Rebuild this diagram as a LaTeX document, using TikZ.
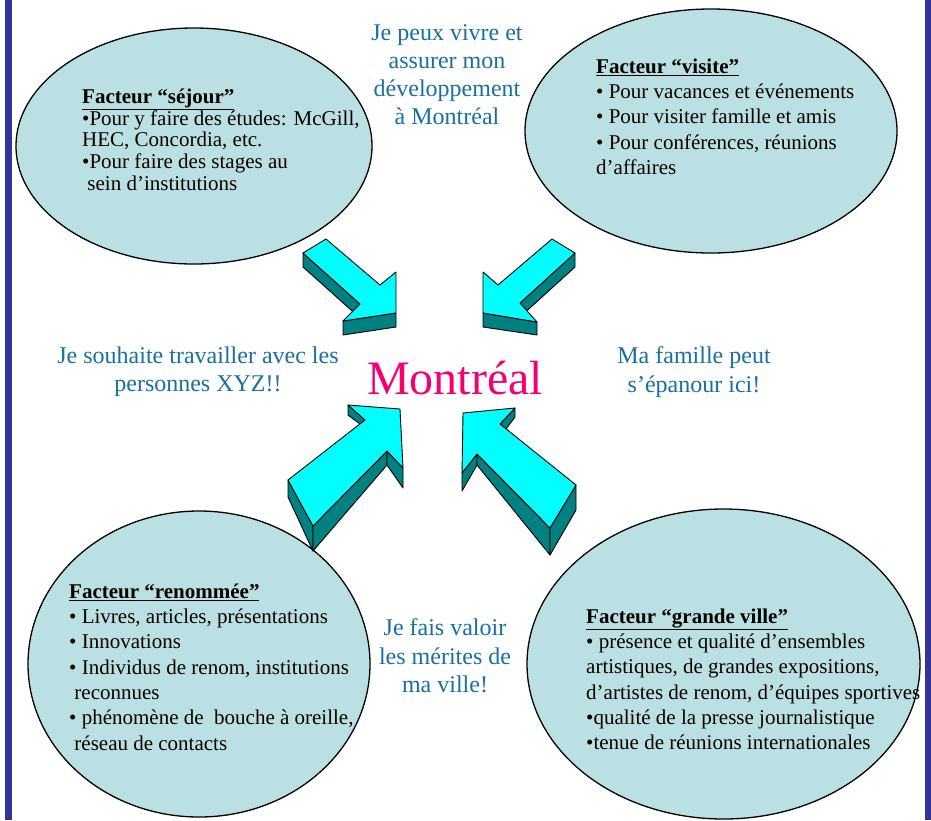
\documentclass[tikz,border=0pt]{standalone}
\usepackage{fontspec}
\setmainfont{Liberation Serif}
\usetikzlibrary{shapes.geometric}
\definecolor{ellfill}{RGB}{187,224,227}
\definecolor{bluetxt}{RGB}{25,112,160}
\definecolor{magtxt}{RGB}{245,0,115}
\definecolor{atop}{RGB}{0,255,255}
\definecolor{aside}{RGB}{0,128,128}
\definecolor{bord}{RGB}{51,51,153}
\begin{document}
\begin{tikzpicture}[x=1pt,y=-1pt,
  ell/.style={ellipse, draw=black, line width=1.3pt, fill=ellfill, inner sep=0pt},
  body/.style={anchor=north west, align=left, inner sep=0pt, font=\fontsize{21}{25.3}\selectfont},
  bluetext/.style={anchor=north, align=center, inner sep=0pt, text=bluetxt, font=\fontsize{24}{28.3}\selectfont},
  atopface/.style={fill=atop, draw=black, line width=0.9pt, line join=round},
  asideface/.style={fill=aside, draw=black, line width=0.9pt, line join=round},
  bordbar/.style={fill=bord, draw=none}]
\useasboundingbox (0,0) rectangle (931,820);
\fill[white] (0,0) rectangle (931,820);
\fill[bordbar] (5,0) rectangle (12,820);
\fill[bordbar] (925,0) rectangle (931,820);

% ellipses
\node[ell, minimum width=356pt, minimum height=236pt] (sejour) at (194,146) {};
\node[ell, minimum width=372pt, minimum height=244pt] (visite) at (711,131) {};
\node[ell, minimum width=342pt, minimum height=306pt] (renom) at (199,664) {};
\node[ell, minimum width=393pt, minimum height=310pt] (ville) at (723.5,664) {};

% ellipse texts
\node[body, font=\fontsize{21}{21.8}\selectfont] (tsejour) at (82,88.5) {\underline{\textbf{Facteur “séjour”}}\\
•Pour y faire des études: McGill,\\
HEC, Concordia, etc.\\
•Pour faire des stages au\\
\ sein d’institutions};
\node[body] (tvisite) at (596,58.5) {\underline{\textbf{Facteur “visite”}}\\
• Pour vacances et événements\\
• Pour visiter famille et amis\\
• Pour conférences, réunions\\
d’affaires};
\node[body] (trenom) at (69,583.5) {\underline{\textbf{Facteur “renommée”}}\\
• Livres, articles, présentations\\
• Innovations\\
• Individus de renom, institutions\\
\ reconnues\\
• phénomène de\ \ bouche à oreille,\\
\ réseau de contacts};
\node[body] (tville) at (586,608.5) {\underline{\textbf{Facteur “grande ville”}}\\
• présence et qualité d’ensembles\\
artistiques, de grandes expositions,\\
d’artistes de renom, d’équipes sportives\\
•qualité de la presse journalistique\\
•tenue de réunions internationales};

% blue texts
\node[bluetext] (vivre) at (447,24) {Je peux vivre et\\assurer mon\\développement\\à Montréal};
\node[bluetext] (travail) at (198,346.6) {Je souhaite travailler avec les\\personnes XYZ!!};
\node[bluetext] (famille) at (694,346.6) {Ma famille peut\\s’épanour ici!};
\node[bluetext] (valoir) at (445,618.6) {Je fais valoir\\les mérites de\\ma ville!};

% centre
\node[anchor=base, inner sep=0pt, text=magtxt, font=\fontsize{48}{56}\selectfont] (mtl) at (455,394) {Montréal};

% arrow 1 (top-left, pointing down-right)
\filldraw[asideface] (303,253) -- (360,304) -- (360,318) -- (303,267) -- cycle;
\filldraw[asideface] (343,321) -- (396,313) -- (396,327) -- (343,335) -- cycle;
\filldraw[atopface] (303,253) -- (326,239) -- (380,285) -- (396,272) -- (396,313) -- (343,321) -- (360,304) -- cycle;

% arrow 2 (top-right, pointing down-left)
\filldraw[asideface] (575,253) -- (520,303) -- (520,317) -- (575,267) -- cycle;
\filldraw[asideface] (483,313) -- (537,322) -- (537,335) -- (483,327) -- cycle;
\filldraw[atopface] (483,313) -- (483,272) -- (498,285) -- (552,239) -- (575,253) -- (520,303) -- (537,322) -- cycle;

% arrow 3 (bottom-left, pointing up-right)
\filldraw[asideface] (288,480) -- (313,526) -- (313,551) -- (288,497) -- cycle;
\filldraw[asideface] (313,526) -- (387,451) -- (387,465) -- (313,551) -- cycle;
\filldraw[asideface] (387,451) -- (403,468) -- (403,488) -- (387,465) -- cycle;
\filldraw[asideface] (348,405) -- (365,420) -- (360,424) -- (348,415) -- cycle;
\filldraw[atopface] (288,480) -- (365,420) -- (348,405) -- (400,409) -- (403,468) -- (387,451) -- (313,526) -- cycle;

% arrow 4 (bottom-right, pointing up-left)
\filldraw[asideface] (462,473) -- (477,454) -- (477,465) -- (462,491) -- cycle;
\filldraw[asideface] (477,454) -- (550,528) -- (550,555) -- (477,465) -- cycle;
\filldraw[asideface] (550,528) -- (576,485) -- (576,510) -- (550,555) -- cycle;
\filldraw[asideface] (515,408) -- (515,417) -- (506,429) -- (500,424) -- cycle;
\filldraw[atopface] (463,413) -- (515,408) -- (500,424) -- (576,485) -- (550,528) -- (477,454) -- (462,473) -- cycle;
\end{tikzpicture}
\end{document}
